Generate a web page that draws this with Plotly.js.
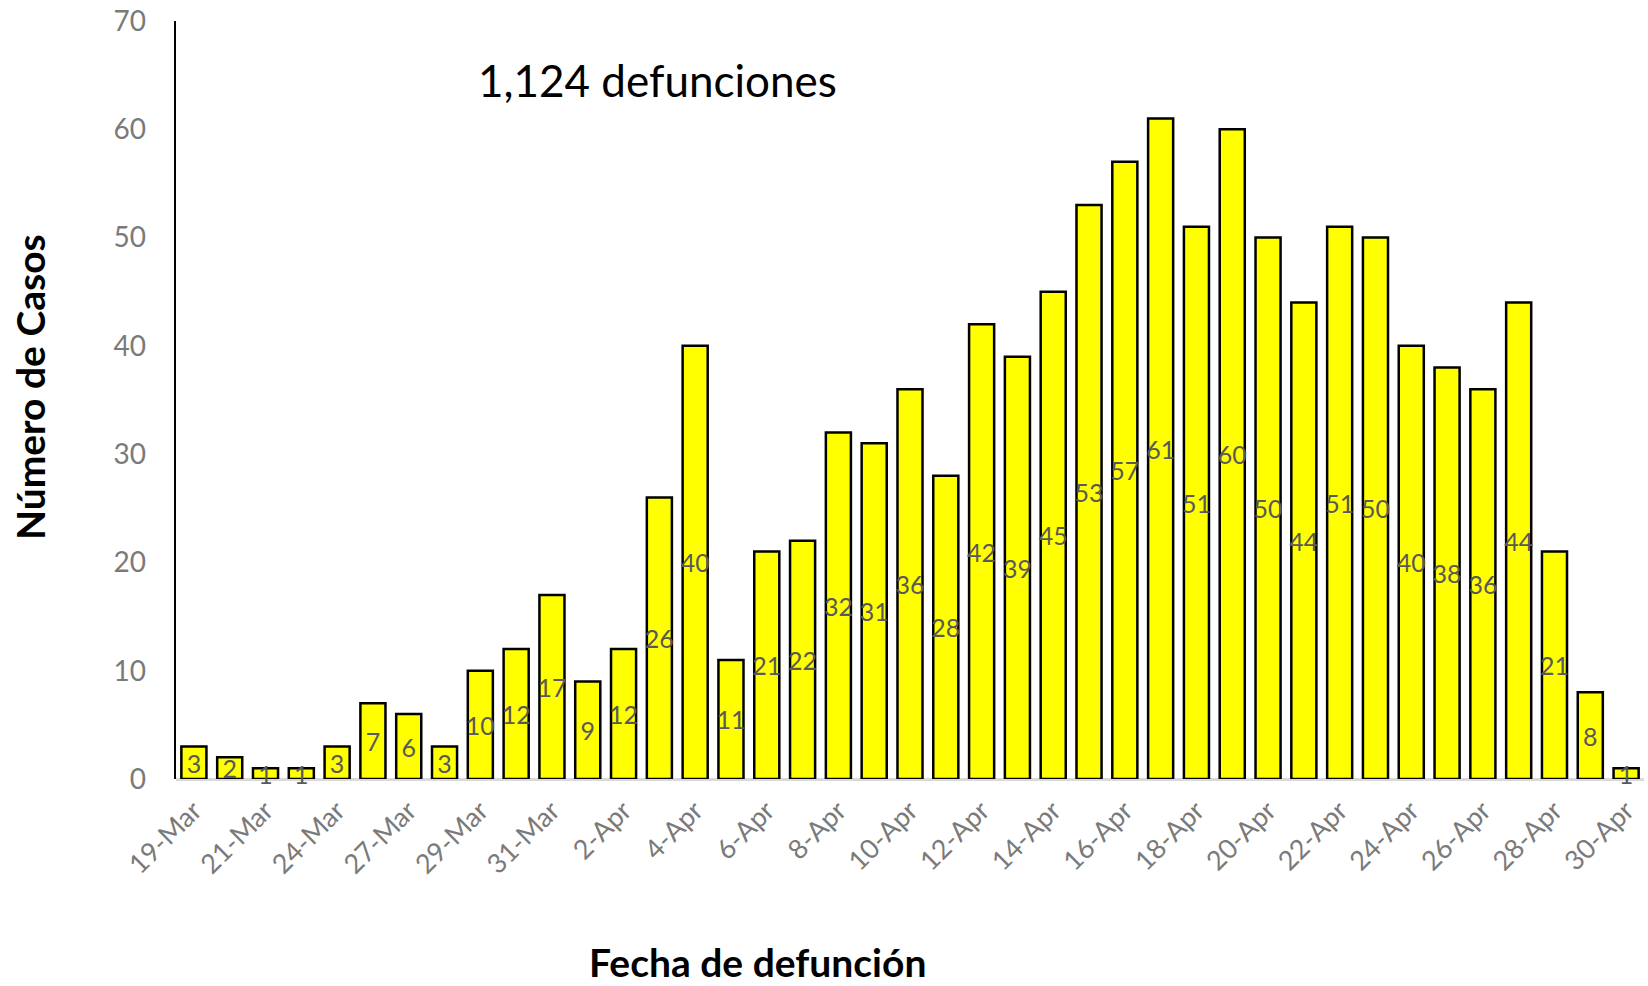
<!DOCTYPE html>
<html>
<head>
<meta charset="utf-8">
<script src="https://cdn.plot.ly/plotly-3.0.1.min.js"></script>
<style>html,body{margin:0;padding:0;background:#fff;}#chart{width:1648px;height:986px;}</style>
</head>
<body>
<div id="chart"></div>
<script>
const dates = ["19-Mar","20-Mar","21-Mar","23-Mar","24-Mar","26-Mar","27-Mar","28-Mar","29-Mar","30-Mar",
  "31-Mar","1-Apr","2-Apr","3-Apr","4-Apr","5-Apr","6-Apr","7-Apr","8-Apr","9-Apr",
  "10-Apr","11-Apr","12-Apr","13-Apr","14-Apr","15-Apr","16-Apr","17-Apr","18-Apr","19-Apr",
  "20-Apr","21-Apr","22-Apr","23-Apr","24-Apr","25-Apr","26-Apr","27-Apr","28-Apr","29-Apr","30-Apr"];
const deaths = [3,2,1,1,3,7,6,3,10,12,
  17,9,12,26,40,11,21,22,32,31,
  36,28,42,39,45,53,57,61,51,60,
  50,44,51,50,40,38,36,44,21,8,1];
const tickLabels = dates.filter((d, i) => i % 2 === 0);
const totalLabel = "1,124 defunciones";
const xTitle = "Fecha de defunción";
const yTitle = "Número de Casos";

const FONT = "Lato, 'Open Sans', sans-serif";

const trace = {
  type: "bar",
  x: dates,
  y: deaths,
  text: deaths.map(String),
  textposition: "inside",
  insidetextanchor: "middle",
  textangle: 0,
  constraintext: "none",
  cliponaxis: false,
  insidetextfont: {family: FONT, size: 25, color: "#595959"},
  marker: {color: "#FFFF00", line: {color: "#000000", width: 2.5}},
  hoverinfo: "x+y"
};

const layout = {
  width: 1648,
  height: 986,
  margin: {l: 176, r: 4, t: 21, b: 207},
  paper_bgcolor: "#ffffff",
  plot_bgcolor: "#ffffff",
  showlegend: false,
  bargap: 0.3,
  font: {family: FONT, color: "#595959"},
  xaxis: {
    type: "category",
    range: [-0.5, 40.5],
    tickmode: "array",
    tickvals: tickLabels,
    ticktext: tickLabels,
    tickangle: -45,
    tickfont: {family: FONT, size: 27, color: "#7a7a7a"},
    ticks: "outside",
    ticklen: 4,
    tickcolor: "rgba(0,0,0,0)",
    showline: false,
    showgrid: false,
    zeroline: false,
    fixedrange: true
  },
  yaxis: {
    range: [0, 70],
    tickmode: "array",
    tickvals: [0,10,20,30,40,50,60,70],
    tickfont: {family: FONT, size: 28, color: "#7a7a7a"},
    ticks: "outside",
    ticklen: 22,
    tickcolor: "rgba(0,0,0,0)",
    showline: true,
    linecolor: "#000000",
    linewidth: 2.5,
    showgrid: false,
    zeroline: true,
    zerolinecolor: "#d9d9d9",
    zerolinewidth: 3,
    fixedrange: true
  },
  annotations: [
    {text: totalLabel, xref: "paper", yref: "paper", x: 0.2044, y: 0.922,
     xanchor: "left", yanchor: "middle", showarrow: false,
     font: {family: FONT, size: 44, color: "#000000"}},
    {text: "<b>" + xTitle + "</b>", xref: "paper", yref: "paper", x: 0.396, y: -0.242,
     xanchor: "center", yanchor: "middle", showarrow: false,
     font: {family: FONT, size: 39, color: "#000000"}},
    {text: "<b>" + yTitle + "</b>", xref: "paper", yref: "paper", x: -0.0995, y: 0.517,
     xanchor: "center", yanchor: "middle", showarrow: false, textangle: -90,
     font: {family: FONT, size: 39, color: "#000000"}}
  ]
};

Plotly.newPlot("chart", [trace], layout, {displayModeBar: false, staticPlot: true});
</script>
</body>
</html>
